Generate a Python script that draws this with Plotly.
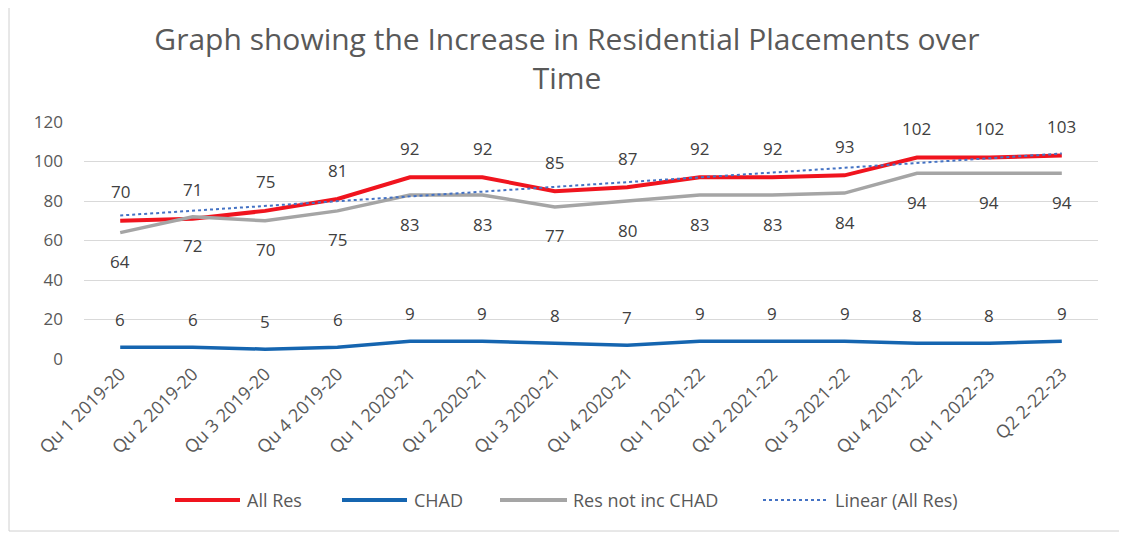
import numpy as np
import plotly.graph_objects as go

categories = ["Qu 1 2019-20", "Qu 2 2019-20", "Qu 3 2019-20", "Qu 4 2019-20",
              "Qu 1 2020-21", "Qu 2 2020-21", "Qu 3 2020-21", "Qu 4 2020-21",
              "Qu 1 2021-22", "Qu 2 2021-22", "Qu 3 2021-22", "Qu 4 2021-22",
              "Qu 1 2022-23", "Q2 2-22-23"]
all_res = [70, 71, 75, 81, 92, 92, 85, 87, 92, 92, 93, 102, 102, 103]
chad = [6, 6, 5, 6, 9, 9, 8, 7, 9, 9, 9, 8, 8, 9]
res_not_chad = [64, 72, 70, 75, 83, 83, 77, 80, 83, 83, 84, 94, 94, 94]
series_names = ["All Res", "CHAD", "Res not inc CHAD", "Linear (All Res)"]

idx = np.arange(len(categories))
slope, intercept = np.polyfit(idx, all_res, 1)
trend = intercept + slope * idx

OFF = 8  # default page body margin
W, H = 1127 - OFF, 533 - OFF
L, R, T, B = 84 - OFF, 29, 122 - OFF, 174
FONT = "Open Sans"
TXT = "#595959"
LBL = "#404040"

styles = [dict(color="#F0141E", width=4),
          dict(color="#1565B0", width=3.5),
          dict(color="#A5A5A5", width=3.5),
          dict(color="#4472C4", width=2, dash="dot")]
ys = [all_res, chad, res_not_chad, list(trend)]

fig = go.Figure()
for name, y, st in zip(series_names, ys, styles):
    fig.add_trace(go.Scatter(x=categories, y=y, mode="lines", name=name,
                             line=st, showlegend=False))

annos = []
for series, shift in ((all_res, 29), (res_not_chad, -29), (chad, 28)):
    for c, v in zip(categories, series):
        annos.append(dict(x=c, y=v, text=str(v), yshift=shift, showarrow=False,
                          font=dict(size=17, color=LBL, family=FONT)))

pw = W - L - R
ph = H - T - B


def px_x(x):
    return (x - OFF - L) / pw


def px_y(y):
    return 1 - (y - OFF - T) / ph


# bottom legend, drawn like the original's (long line swatches)
leg_line_x = [(175, 240), (342, 407), (500, 567), (763, 827)]
leg_text_x = [245, 412, 571, 833]
leg_y = 500
shapes = [dict(type="rect", xref="paper", yref="paper",
               x0=px_x(9), x1=px_x(1124), y0=px_y(531), y1=px_y(2),
               line=dict(color="#D0D0D0", width=1))]
for (x0, x1), st in zip(leg_line_x, styles):
    lw = dict(st)
    if "dash" not in lw:
        lw["width"] = 4
    shapes.append(dict(type="line", xref="paper", yref="paper",
                       x0=px_x(x0), x1=px_x(x1), y0=px_y(leg_y), y1=px_y(leg_y),
                       line=lw))
for name, tx in zip(series_names, leg_text_x):
    annos.append(dict(xref="paper", yref="paper", x=px_x(tx), y=px_y(leg_y),
                      xanchor="left", yanchor="middle", text=name, showarrow=False,
                      font=dict(size=18, color=TXT, family=FONT)))

fig.update_layout(
    width=W, height=H,
    margin=dict(l=L, r=R, t=T, b=B),
    paper_bgcolor="white", plot_bgcolor="white",
    title=dict(text="Graph showing the Increase in Residential Placements over<br>Time",
               x=(567 - OFF) / W, xanchor="center", y=1 - (50 - OFF) / H, yanchor="middle",
               font=dict(family=FONT, size=30, color=TXT)),
    font=dict(family=FONT, color=TXT),
    showlegend=False,
    annotations=annos,
    shapes=shapes,
)
fig.update_xaxes(type="category", range=[-0.5, len(categories) - 0.5],
                 showgrid=False, showline=False, ticks="",
                 tickangle=-45, tickfont=dict(size=18, color=TXT, family=FONT))
fig.update_yaxes(range=[0, 120], dtick=20, showgrid=True, gridcolor="#D9D9D9",
                 gridwidth=1, zeroline=False, showline=False, ticks="",
                 ticklabelstandoff=20, tickfont=dict(size=17, color=TXT, family=FONT))

fig.write_html("out.html")
